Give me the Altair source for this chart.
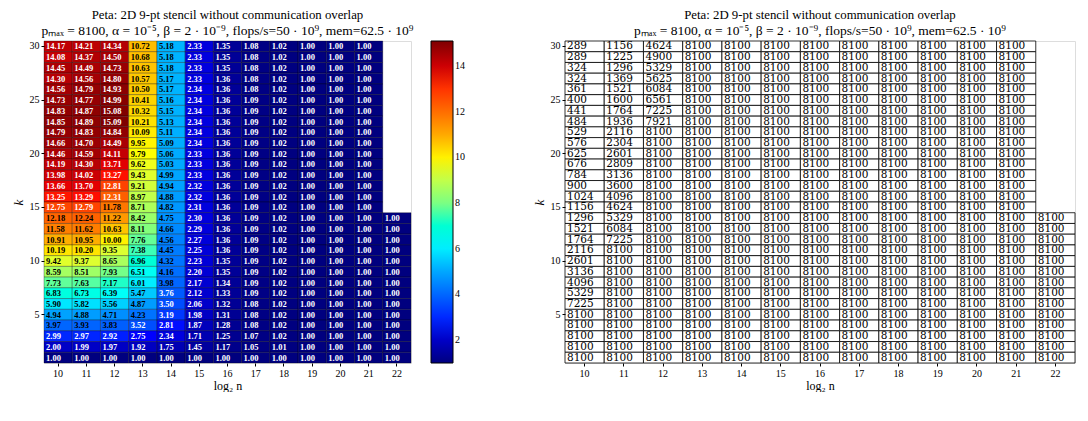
import altair as alt
import pandas as pd

# ---------------- data ----------------
n_vals = [10, 11, 12, 13, 14, 15, 16, 17, 18, 19, 20, 21, 22]
k_vals = [30, 29, 28, 27, 26, 25, 24, 23, 22, 21, 20, 19, 18, 17, 16,
          15, 14, 13, 12, 11, 10, 9, 8, 7, 6, 5, 4, 3, 2, 1]  # top -> bottom

# speedup, each list from k=30 (top) down to k=1 (bottom)
s10 = [14.17, 14.08, 14.45, 14.30, 14.56, 14.73, 14.83, 14.85, 14.79, 14.66,
       14.46, 14.19, 13.98, 13.66, 13.25, 12.75, 12.18, 11.58, 10.91, 10.19,
       9.42, 8.59, 7.73, 6.83, 5.90, 4.94, 3.97, 2.99, 2.00, 1.00]
s11 = [14.21, 14.37, 14.49, 14.56, 14.79, 14.77, 14.87, 14.89, 14.83, 14.70,
       14.59, 14.30, 14.02, 13.70, 13.29, 12.79, 12.24, 11.62, 10.95, 10.20,
       9.37, 8.51, 7.63, 6.73, 5.82, 4.88, 3.93, 2.97, 1.99, 1.00]
s12 = [14.34, 14.50, 14.73, 14.80, 14.93, 14.99, 15.08, 15.09, 14.84, 14.49,
       14.11, 13.71, 13.27, 12.81, 12.31, 11.78, 11.22, 10.63, 10.00, 9.35,
       8.65, 7.93, 7.17, 6.39, 5.56, 4.71, 3.83, 2.92, 1.97, 1.00]
s13 = [10.72, 10.68, 10.63, 10.57, 10.50, 10.41, 10.32, 10.21, 10.09, 9.95,
       9.79, 9.62, 9.43, 9.21, 8.97, 8.71, 8.42, 8.11, 7.76, 7.38,
       6.96, 6.51, 6.01, 5.47, 4.87, 4.23, 3.52, 2.75, 1.92, 1.00]
s14 = [5.18, 5.18, 5.18, 5.17, 5.17, 5.16, 5.15, 5.13, 5.11, 5.09,
       5.06, 5.03, 4.99, 4.94, 4.88, 4.82, 4.75, 4.66, 4.56, 4.45,
       4.32, 4.16, 3.98, 3.76, 3.50, 3.19, 2.81, 2.34, 1.75, 1.00]
s15 = [2.33, 2.33, 2.33, 2.33, 2.34, 2.34, 2.34, 2.34, 2.34, 2.34,
       2.33, 2.33, 2.33, 2.32, 2.32, 2.31, 2.30, 2.29, 2.27, 2.25,
       2.23, 2.20, 2.17, 2.12, 2.06, 1.98, 1.87, 1.71, 1.45, 1.00]
s16 = [1.35, 1.35, 1.35, 1.36, 1.36, 1.36, 1.36, 1.36, 1.36, 1.36,
       1.36, 1.36, 1.36, 1.36, 1.36, 1.36, 1.36, 1.36, 1.36, 1.36,
       1.35, 1.35, 1.34, 1.33, 1.32, 1.31, 1.28, 1.25, 1.17, 1.00]
s17 = [1.08, 1.08, 1.08, 1.08, 1.08, 1.09, 1.09, 1.09, 1.09, 1.09,
       1.09, 1.09, 1.09, 1.09, 1.09, 1.09, 1.09, 1.09, 1.09, 1.09,
       1.09, 1.09, 1.09, 1.09, 1.08, 1.08, 1.08, 1.07, 1.05, 1.00]
s18 = [1.02, 1.02, 1.02, 1.02, 1.02, 1.02, 1.02, 1.02, 1.02, 1.02,
       1.02, 1.02, 1.02, 1.02, 1.02, 1.02, 1.02, 1.02, 1.02, 1.02,
       1.02, 1.02, 1.02, 1.02, 1.02, 1.02, 1.02, 1.02, 1.01, 1.00]
s19 = [1.00, 1.00, 1.00, 1.00, 1.00, 1.00, 1.00, 1.00, 1.00, 1.00,
       1.00, 1.00, 1.00, 1.00, 1.00, 1.00, 1.00, 1.00, 1.00, 1.00,
       1.00, 1.00, 1.00, 1.00, 1.00, 1.00, 1.00, 1.00, 1.00, 1.00]
s20 = [1.00, 1.00, 1.00, 1.00, 1.00, 1.00, 1.00, 1.00, 1.00, 1.00,
       1.00, 1.00, 1.00, 1.00, 1.00, 1.00, 1.00, 1.00, 1.00, 1.00,
       1.00, 1.00, 1.00, 1.00, 1.00, 1.00, 1.00, 1.00, 1.00, 1.00]
s21 = [1.00, 1.00, 1.00, 1.00, 1.00, 1.00, 1.00, 1.00, 1.00, 1.00,
       1.00, 1.00, 1.00, 1.00, 1.00, 1.00, 1.00, 1.00, 1.00, 1.00,
       1.00, 1.00, 1.00, 1.00, 1.00, 1.00, 1.00, 1.00, 1.00, 1.00]
s22 = [None, None, None, None, None, None, None, None, None, None,
       None, None, None, None, None, None, 1.00, 1.00, 1.00, 1.00,
       1.00, 1.00, 1.00, 1.00, 1.00, 1.00, 1.00, 1.00, 1.00, 1.00]

# processor counts p, k=30 (top) down to k=1
p10 = [289, 289, 324, 324, 361, 400, 441, 484, 529, 576,
       625, 676, 784, 900, 1024, 1156, 1296, 1521, 1764, 2116,
       2601, 3136, 4096, 5329, 7225, 8100, 8100, 8100, 8100, 8100]
p11 = [1156, 1225, 1296, 1369, 1521, 1600, 1764, 1936, 2116, 2304,
       2601, 2809, 3136, 3600, 4096, 4624, 5329, 6084, 7225, 8100,
       8100, 8100, 8100, 8100, 8100, 8100, 8100, 8100, 8100, 8100]
p12 = [4624, 4900, 5329, 5625, 6084, 6561, 7225, 7921, 8100, 8100,
       8100, 8100, 8100, 8100, 8100, 8100, 8100, 8100, 8100, 8100,
       8100, 8100, 8100, 8100, 8100, 8100, 8100, 8100, 8100, 8100]
p_full = [8100, 8100, 8100, 8100, 8100, 8100, 8100, 8100, 8100, 8100,
          8100, 8100, 8100, 8100, 8100, 8100, 8100, 8100, 8100, 8100,
          8100, 8100, 8100, 8100, 8100, 8100, 8100, 8100, 8100, 8100]
p22 = [None, None, None, None, None, None, None, None, None, None,
       None, None, None, None, None, None, 8100, 8100, 8100, 8100,
       8100, 8100, 8100, 8100, 8100, 8100, 8100, 8100, 8100, 8100]

speed_cols = [s10, s11, s12, s13, s14, s15, s16, s17, s18, s19, s20, s21, s22]
p_cols = [p10, p11, p12, p_full, p_full, p_full, p_full, p_full, p_full,
          p_full, p_full, p_full, p22]

colorbar_ticks = [2, 4, 6, 8, 10, 12, 14]
y_ticks = [30, 25, 20, 15, 10, 5]

title_line = "Peta: 2D 9-pt stencil without communication overlap"
subtitle_line = "pₘₐₓ = 8100, α = 10⁻⁵, β = 2 · 10⁻⁹, flops/s=50 · 10⁹, mem=62.5 · 10⁹"

# ---------------- tables ----------------
rows_s, rows_p = [], []
for n, sc, pc in zip(n_vals, speed_cols, p_cols):
    for k, s, p in zip(k_vals, sc, pc):
        if s is not None:
            rows_s.append({"n": n, "k": k, "v": s})
        if p is not None:
            rows_p.append({"n": n, "k": k, "p": p})
df_s = pd.DataFrame(rows_s)
df_p = pd.DataFrame(rows_p)

vmin, vmax = 1.0, 15.09
jet_pos = [0.0, 0.125, 0.25, 0.375, 0.5, 0.625, 0.75, 0.875, 1.0]
jet_colors = ["#00007f", "#0000ff", "#007fff", "#00ffff", "#7fff7f",
              "#ffff00", "#ff7f00", "#ff0000", "#7f0000"]
jet_domain = [vmin + t * (vmax - vmin) for t in jet_pos]

FONT = "Liberation Serif"
LW, RW, H = 367, 510, 322
cwl = LW / len(n_vals)
cwr = RW / len(n_vals)

AX = dict(labelFont=FONT, labelFontSize=10, labelFontWeight="normal",
          titleFont=FONT, titleFontWeight="normal", labelColor="black",
          titleColor="black", tickColor="black", domain=False, grid=False, tickSize=3)


def xenc():
    return alt.X("n:O", scale=alt.Scale(domain=n_vals, paddingInner=0, paddingOuter=0),
                 axis=alt.Axis(title="log₂ n", labelAngle=0, titlePadding=2,
                               titleFontSize=12, **AX))


def yenc():
    return alt.Y("k:O", scale=alt.Scale(domain=k_vals, paddingInner=0, paddingOuter=0),
                 axis=alt.Axis(title="k", values=y_ticks, titleFontStyle="italic",
                               titlePadding=4, titleFontSize=13, **AX))


def make_title():
    return alt.Title(title_line, subtitle=subtitle_line, font=FONT, fontSize=12.8,
                     fontWeight="normal", subtitleFont=FONT, subtitleFontSize=13.5,
                     subtitleColor="black", subtitlePadding=2,
                     anchor="middle", offset=3, color="black")


heat = alt.Chart(df_s).mark_rect(stroke="black", strokeWidth=0.5, strokeOpacity=0.6).encode(
    x=xenc(), y=yenc(),
    color=alt.Color("v:Q", scale=alt.Scale(domain=jet_domain, range=jet_colors),
                    legend=alt.Legend(title=None, values=colorbar_ticks, orient="right",
                                      direction="vertical", gradientLength=H,
                                      gradientThickness=22, gradientStrokeColor="black",
                                      gradientStrokeWidth=1, labelFont=FONT,
                                      labelFontSize=10, labelColor="black", offset=20,
                                      labelOverlap=False)),
)
heat_txt = alt.Chart(df_s).mark_text(align="left", baseline="middle", dx=-cwl / 2 + 2,
                                     font=FONT, fontSize=8.5, fontWeight="bold").encode(
    x=xenc(), y=yenc(),
    text=alt.Text("v:Q", format=".2f"),
    color=alt.condition("datum.v >= 12.3 || datum.v < 3.8", alt.value("white"), alt.value("black")),
)
left = alt.layer(heat, heat_txt).properties(width=LW, height=H, title=make_title())

tab = alt.Chart(df_p).mark_rect(fill="white", stroke="black", strokeWidth=0.8).encode(
    x=xenc(), y=yenc())
tab_txt = alt.Chart(df_p).mark_text(align="left", baseline="middle", dx=-cwr / 2 + 2,
                                    font="DejaVu Serif", fontSize=10.5,
                                    color="black").encode(
    x=xenc(), y=yenc(), text=alt.Text("p:Q", format="d"))
right = alt.layer(tab, tab_txt).properties(width=RW, height=H, title=make_title())

chart = alt.hconcat(left, right, spacing=66).resolve_scale(
    color="independent", x="independent", y="independent"
).resolve_legend(color="independent").properties(
    padding={"left": 3, "top": 0, "right": 0, "bottom": 0}
).configure_view(stroke="black", strokeWidth=1).configure(background="white")

chart.save("out.html", embed_options={"renderer": "svg", "actions": False})
